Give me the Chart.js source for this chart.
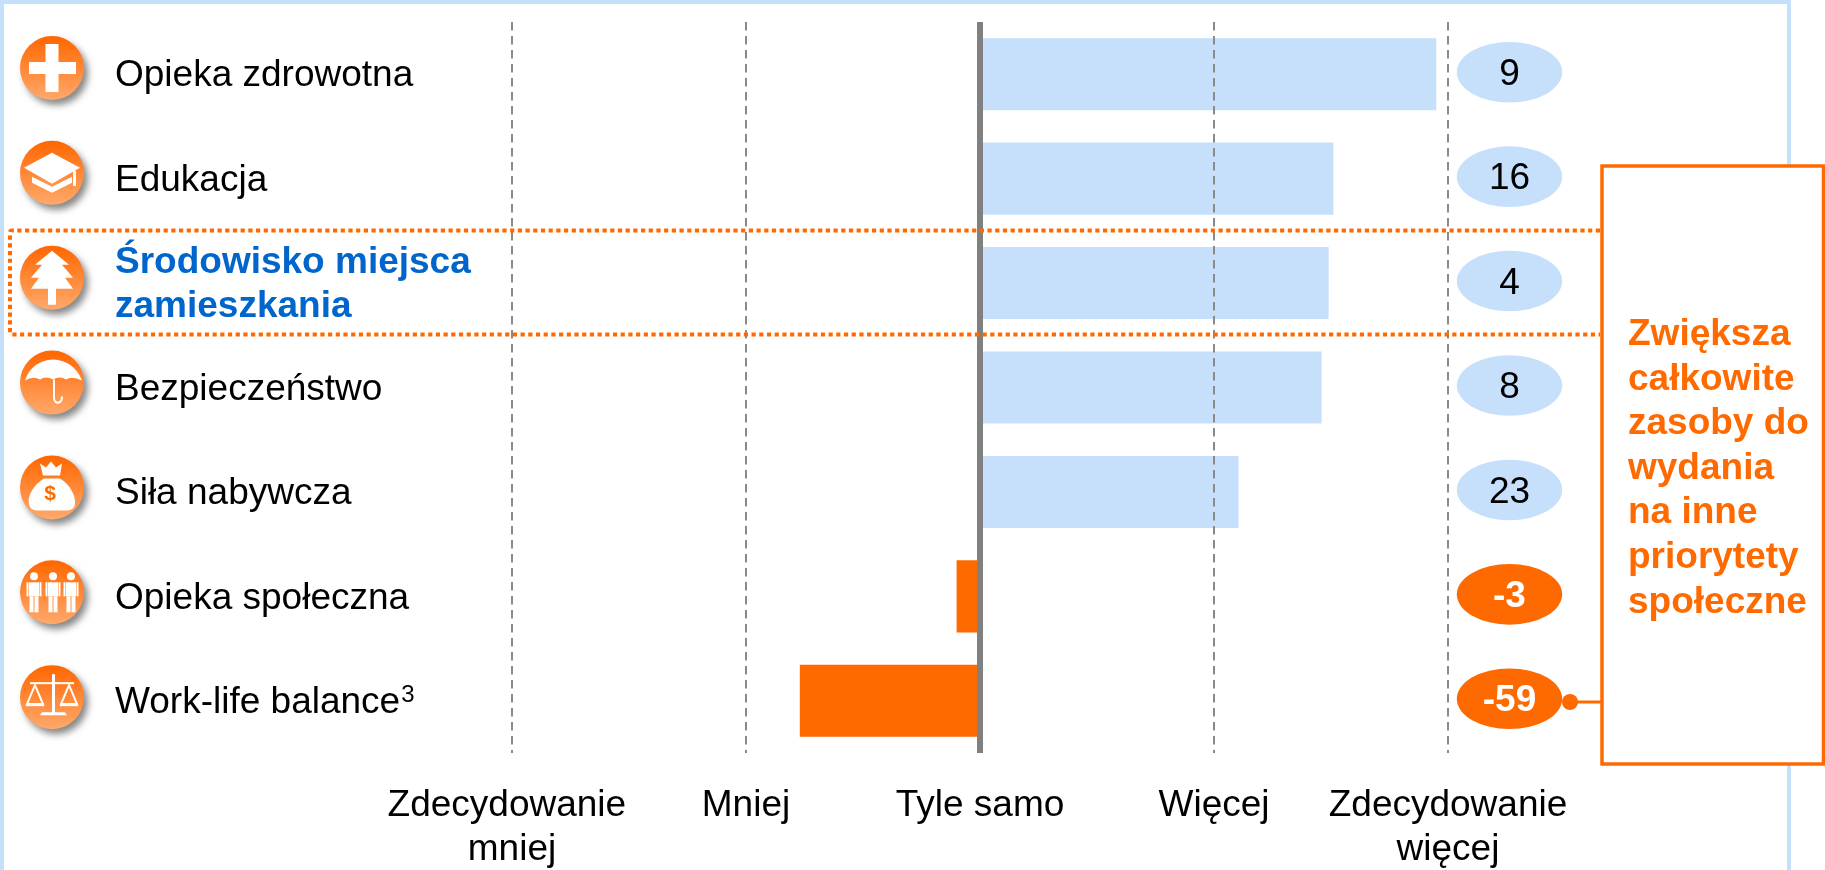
<!DOCTYPE html>
<html>
<head>
<meta charset="utf-8">
<title>Priorytety</title>
<script src="https://cdn.jsdelivr.net/npm/chart.js@4"></script>
<style>
  html, body { margin: 0; background: #fff; overflow: hidden; }
  canvas { display: block; }
</style>
</head>
<body>
<canvas id="chart" width="1825" height="870"></canvas>
<script>
const categories = [
  'Opieka zdrowotna',
  'Edukacja',
  ['Środowisko miejsca', 'zamieszkania'],
  'Bezpieczeństwo',
  'Siła nabywcza',
  'Opieka społeczna',
  'Work-life balance'
];
const scores = [1.95, 1.51, 1.49, 1.46, 1.105, -0.10, -0.77];
const netLabels = ['9', '16', '4', '8', '23', '-3', '-59'];
const scaleTicks = [-2, -1, 0, 1, 2];
const scaleLabels = [['Zdecydowanie ', 'mniej'], 'Mniej', 'Tyle samo', 'Więcej', ['Zdecydowanie', 'więcej']];
const noteLines = ['Zwiększa', 'całkowite', 'zasoby do', 'wydania', 'na inne', 'priorytety', 'społeczne'];

const ORANGE = '#ff6a00';
const BLUE = '#c6e0fb';
const GREY = '#808080';
const FONT = '"Liberation Sans", Arial, sans-serif';
const HIGHLIGHT = 2;

// white glyphs inside the round icons, drawn around the circle centre
const glyphs = [
  function cross(c) {
    c.fillRect(-6.5, -24, 13, 48);
    c.fillRect(-23, -6, 47, 12);
  },
  function cap(c) {
    poly(c, [[0, -20], [28, -5], [0, 11], [-28, -5]]);
    poly(c, [[-20, 4], [0, 14], [20, 4], [20, 10], [0, 20], [-20, 10]]);
    c.fillRect(21, -2, 3, 15);
  },
  function tree(c) {
    poly(c, [[0, -27], [17, -13], [10, -13], [21, 0], [13, 0], [21, 11], [4, 11], [4, 27], [-4, 27], [-4, 11],
      [-21, 11], [-13, 0], [-21, 0], [-10, -13], [-17, -13]]);
  },
  function umbrella(c) {
    c.beginPath();
    c.moveTo(-27, -2);
    c.quadraticCurveTo(-20, -22, 1, -23);
    c.quadraticCurveTo(22, -22, 30, -2);
    c.quadraticCurveTo(20, -7, 14, -3);
    c.quadraticCurveTo(8, -7, 1, -3);
    c.quadraticCurveTo(-6, -7, -12, -3);
    c.quadraticCurveTo(-19, -7, -27, -2);
    c.fill();
    c.strokeStyle = '#fff';
    c.lineWidth = 2;
    c.beginPath();
    c.moveTo(2, -3);
    c.lineTo(2, 16);
    c.quadraticCurveTo(3, 21, 7, 20);
    c.quadraticCurveTo(10, 19, 10, 14);
    c.stroke();
  },
  function bag(c) {
    c.beginPath();
    c.moveTo(-8, -9);
    c.bezierCurveTo(-18, -3, -25, 8, -23, 17);
    c.quadraticCurveTo(-22, 23, -14, 23);
    c.lineTo(14, 23);
    c.quadraticCurveTo(22, 23, 23, 17);
    c.bezierCurveTo(24, 8, 18, -3, 8, -9);
    c.closePath();
    c.fill();
    poly(c, [[-12, -24], [-6, -20], [-1, -26], [4, -20], [10, -24], [8, -12], [-9, -12]]);
    c.fillStyle = ORANGE;
    c.font = 'bold 21px ' + FONT;
    c.textAlign = 'center';
    c.textBaseline = 'middle';
    c.fillText('$', -2, 7);
  },
  function people(c) {
    [-18, 1, 19].forEach(x => {
      c.beginPath();
      c.arc(x, -16, 4, 0, Math.PI * 2);
      c.fill();
      c.fillRect(x - 5, -10, 10, 14);
      c.fillRect(x - 7.5, -10, 2, 14);
      c.fillRect(x + 5.5, -10, 2, 14);
      c.fillRect(x - 4.5, 4, 4, 16);
      c.fillRect(x + 0.5, 4, 4, 16);
    });
  },
  function balance(c) {
    c.fillRect(0, -23, 3, 40);
    c.fillRect(-22, -15, 44, 2);
    poly(c, [[-12, 18], [15, 18], [13, 15], [-10, 15]]);
    c.strokeStyle = '#fff';
    c.lineWidth = 2;
    [-17, 17].forEach(x => {
      c.beginPath();
      c.moveTo(x, -12);
      c.lineTo(x - 8, 7);
      c.lineTo(x + 8, 7);
      c.closePath();
      c.stroke();
      c.fillRect(x - 9, 6, 18, 3);
    });
  }
];

function poly(c, pts) {
  c.beginPath();
  pts.forEach((p, i) => i ? c.lineTo(p[0], p[1]) : c.moveTo(p[0], p[1]));
  c.closePath();
  c.fill();
}

function drawIcon(c, cy, index) {
  const cx = 52, r = 32;
  c.save();
  c.shadowColor = 'rgba(70,70,70,0.65)';
  c.shadowBlur = 7;
  c.shadowOffsetX = 4;
  c.shadowOffsetY = 5;
  const grad = c.createLinearGradient(0, cy - r, 0, cy + r);
  grad.addColorStop(0, '#ff6600');
  grad.addColorStop(1, '#ffa96b');
  c.fillStyle = grad;
  c.beginPath();
  c.arc(cx, cy, r, 0, Math.PI * 2);
  c.fill();
  c.restore();

  c.save();
  c.translate(cx, cy);
  c.fillStyle = '#fff';
  glyphs[index](c);
  c.restore();
}

// page frame goes under everything else
const framePlugin = {
  id: 'frame',
  beforeDraw(chart) {
    const c = chart.ctx;
    c.save();
    c.strokeStyle = BLUE;
    c.lineWidth = 4;
    c.beginPath();
    c.moveTo(2, 880);
    c.lineTo(2, 2);
    c.lineTo(1789, 2);
    c.lineTo(1789, 880);
    c.stroke();
    c.restore();
  }
};

// icons, net-score ovals, centre line, highlight band and the note box
const overlayPlugin = {
  id: 'overlay',
  afterDraw(chart) {
    const c = chart.ctx;
    const x = chart.scales.x, y = chart.scales.y;

    c.save();
    c.fillStyle = GREY;
    const zero = x.getPixelForValue(0);
    c.fillRect(zero - 3, chart.chartArea.top, 6, chart.chartArea.height);

    categories.forEach((name, i) => {
      const py = y.getPixelForTick(i);
      drawIcon(c, py - 6.2 + i * 0.43, i);

      const neg = scores[i] < 0;
      c.fillStyle = neg ? ORANGE : BLUE;
      c.beginPath();
      c.ellipse(1509.5, py - 2, 52.7, 30.3, 0, 0, Math.PI * 2);
      c.fill();
      c.fillStyle = neg ? '#fff' : '#000';
      c.font = (neg ? 'bold ' : '') + '37px ' + FONT;
      c.textAlign = 'center';
      c.textBaseline = 'middle';
      c.fillText(netLabels[i], 1509.5, py + 0.5);
    });

    // footnote mark after the last category
    c.fillStyle = '#000';
    c.font = '37px ' + FONT;
    const w = c.measureText(categories[6]).width;
    c.font = '24px ' + FONT;
    c.textAlign = 'left';
    c.textBaseline = 'alphabetic';
    c.fillText('3', 116 + w, y.getPixelForTick(6) + 1.4);

    // dotted band around the highlighted row
    c.strokeStyle = ORANGE;
    c.lineWidth = 4;
    c.setLineDash([4.2, 3.5]);
    c.beginPath();
    c.moveTo(1600, 230.5);
    c.lineTo(12, 230.5);
    c.quadraticCurveTo(10, 230.5, 10, 232.5);
    c.lineTo(10, 332.5);
    c.quadraticCurveTo(10, 334.5, 12, 334.5);
    c.lineTo(1600, 334.5);
    c.stroke();
    c.setLineDash([]);

    // note box, cut off by the right page edge
    c.fillStyle = '#fff';
    c.fillRect(1602, 166, 222, 598);
    c.strokeStyle = ORANGE;
    c.lineWidth = 3.5;
    c.strokeRect(1602, 166, 221.5, 598);

    // connector from the lowest oval to the box
    c.lineWidth = 3;
    c.beginPath();
    c.moveTo(1570, 702);
    c.lineTo(1602, 702);
    c.stroke();
    c.fillStyle = ORANGE;
    c.beginPath();
    c.arc(1570, 702, 8, 0, Math.PI * 2);
    c.fill();

    c.font = 'bold 37px ' + FONT;
    c.textAlign = 'left';
    c.textBaseline = 'alphabetic';
    noteLines.forEach((line, i) => c.fillText(line, 1628, 345 + i * 44.6));
    c.restore();
  }
};

Chart.defaults.animation = false;

new Chart(document.getElementById('chart'), {
  type: 'bar',
  data: {
    labels: categories,
    datasets: [{
      data: scores,
      backgroundColor: scores.map(v => v < 0 ? ORANGE : BLUE),
      barPercentage: 0.69,
      categoryPercentage: 1
    }]
  },
  options: {
    indexAxis: 'y',
    responsive: false,
    layout: { padding: { left: 115, right: 377, top: 22, bottom: 0 } },
    plugins: { legend: { display: false }, tooltip: { enabled: false } },
    scales: {
      x: {
        min: -2,
        max: 2,
        afterFit(scale) {
          scale.height = 117;
          scale.paddingLeft = scale.paddingRight = 0;
        },
        afterBuildTicks(scale) { scale.ticks = scaleTicks.map(v => ({ value: v })); },
        border: { display: false, dash: [8.5, 5.5] },
        grid: {
          z: 1,
          drawTicks: false,
          color: '#8a8a8a',
          lineWidth: ctx => ctx.tick && ctx.tick.value === 0 ? 0 : 2
        },
        ticks: {
          autoSkip: false,
          maxRotation: 0,
          padding: 31,
          color: '#000',
          font: { family: FONT, size: 37, lineHeight: 1.19 },
          callback: (v, i) => scaleLabels[i]
        }
      },
      y: {
        afterFit(scale) {
          scale.width = 397;
          scale.paddingTop = scale.paddingBottom = 0;
        },
        border: { display: false },
        grid: { display: false, drawTicks: false },
        ticks: {
          crossAlign: 'far',
          autoSkip: false,
          labelOffset: 2,
          color: ctx => ctx.index === HIGHLIGHT ? '#0066cc' : '#000',
          font: ctx => ({ family: FONT, size: 37, weight: ctx.index === HIGHLIGHT ? 'bold' : 'normal' })
        }
      }
    }
  },
  plugins: [framePlugin, overlayPlugin]
});
</script>
</body>
</html>
